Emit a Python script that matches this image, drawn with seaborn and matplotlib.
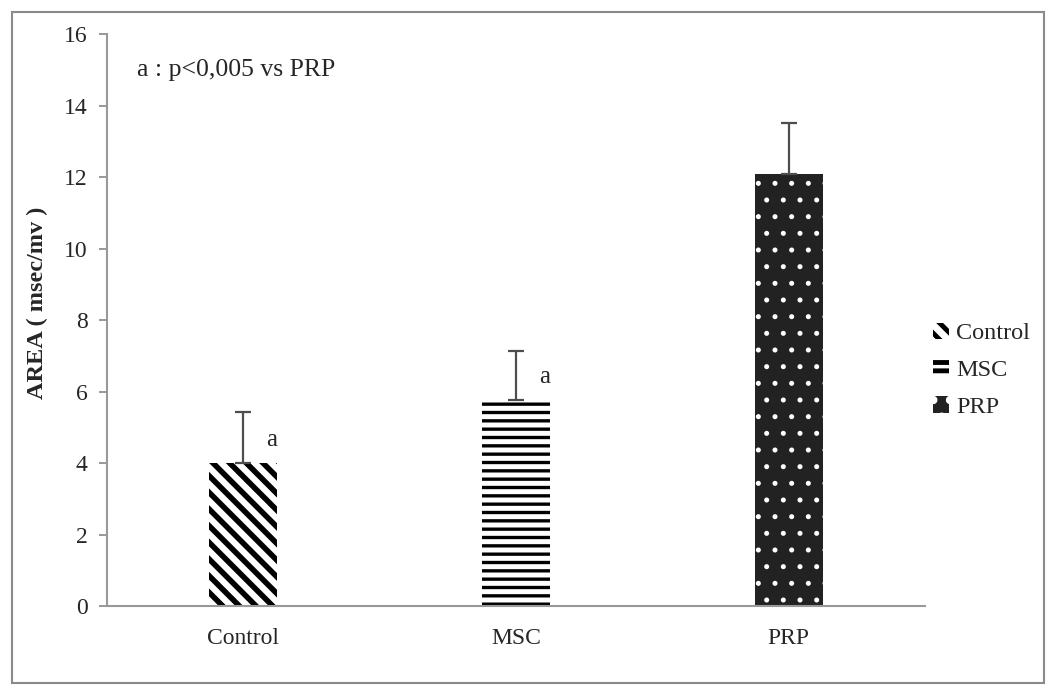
import matplotlib
matplotlib.use('Agg')
import matplotlib.pyplot as plt
import seaborn as sns
from matplotlib.patches import Rectangle

# ── Data ──────────────────────────────────────────────────────────────────────
groups = ['Control', 'MSC', 'PRP']
means = [4.0, 5.75, 12.08]
errors = [1.42, 1.38, 1.42]
sig_labels = ['a', 'a', '']
hatches = ['\\\\', '--', '.']
faces = ['white', 'white', '#222222']
hatch_cols = ['black', 'black', 'white']
hatch_widths = [4.0, 2.4, 1.2]

# ── Style ─────────────────────────────────────────────────────────────────────
sns.set_style('white')
plt.rcParams['font.family'] = ['Liberation Serif', 'DejaVu Serif']
plt.rcParams['hatch.linewidth'] = 3.5

fig = plt.figure(figsize=(10.56, 6.95), dpi=100)
ax = fig.add_axes([0.1013, 0.128, 0.7746, 0.823])

sns.barplot(x=groups, y=means, hue=groups, palette=faces, width=0.25,
            errorbar=None, legend=False, ax=ax)

for i, bar in enumerate(ax.patches):
    bar.set_edgecolor(hatch_cols[i])
    bar.set_linewidth(0)
    bar.set_hatch(hatches[i])
    if hasattr(bar, 'set_hatch_linewidth'):
        bar.set_hatch_linewidth(hatch_widths[i])

# upper error bars only
ax.errorbar(range(len(groups)), means, yerr=[[0] * len(errors), errors],
            fmt='none', ecolor='#4d4d4d', elinewidth=1.6, capsize=6, capthick=1.6)

for i, lab in enumerate(sig_labels):
    if lab:
        ax.text(i + 0.105, means[i] + 0.65, lab, fontsize=18, va='center', ha='center')

ax.text(0.037, 0.937, 'a : p<0,005 vs PRP', transform=ax.transAxes,
        fontsize=18.5, va='center', ha='left')

ax.set_xlim(-0.5, 2.5)
ax.set_ylim(0, 16)
ax.set_yticks(range(0, 17, 2))
ax.set_ylabel('AREA ( msec/mv )', fontsize=17.5, fontweight='bold')
ax.yaxis.set_label_coords(-0.072, 0.53)
ax.tick_params(axis='y', labelsize=17, left=True, length=6, width=1.2,
               color='#888888', direction='out', pad=8)
ax.tick_params(axis='x', labelsize=17, bottom=False, pad=12)
sns.despine(ax=ax)
for side in ['left', 'bottom']:
    ax.spines[side].set_color('#999999')
    ax.spines[side].set_linewidth(1.5)

ax.legend(handles=list(ax.patches), labels=groups, loc='center left',
          bbox_to_anchor=(0.998, 0.412), frameon=False, fontsize=17.5,
          handlelength=0.65, handleheight=0.65, handletextpad=0.3,
          labelspacing=0.62, borderaxespad=0)

fig.patches.append(Rectangle((0.0114, 0.0173), 0.977, 0.966, transform=fig.transFigure,
                             fill=False, edgecolor='#8a8a8a', linewidth=1.5))

fig.savefig('out.png', dpi=100)
